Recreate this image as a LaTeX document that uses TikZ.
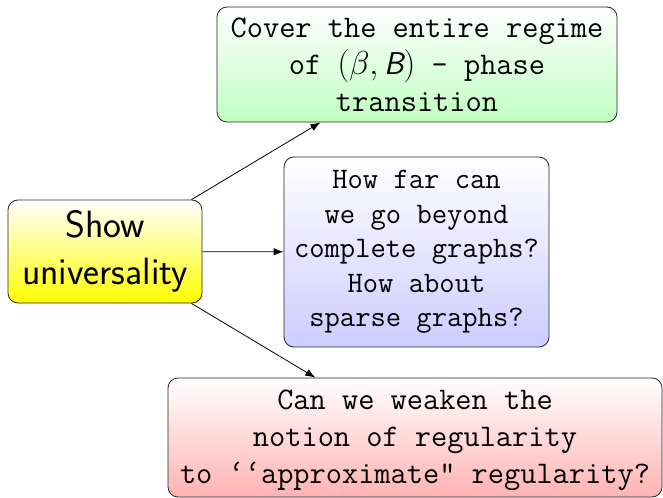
\documentclass[tikz,border=0pt]{standalone}
\usetikzlibrary{arrows.meta,shadings}
\begin{document}
\begin{tikzpicture}[x=0.75pt,y=-0.75pt,
  box/.style={draw=black!85, rounded corners=7.5pt, line width=0.6pt,
    align=center, inner sep=0pt, top color=white},
  ttbox/.style={box, font=\fontsize{23.6}{27.8}\selectfont\ttfamily},
  link/.style={-{Latex[length=7.5pt,width=5.5pt]}, line width=0.6pt}]
\useasboundingbox (0,0) rectangle (663,498);

% central statement
\node[box, bottom color=yellow, minimum width=145.5pt, minimum height=77.25pt,
  font=\fontsize{28.5}{35.5}\selectfont\sffamily] (show) at (105,251.5)
  {Show\\universality};

% three directions
\node[ttbox, bottom color=green!25, minimum width=300pt, minimum height=86.25pt]
  (regime) at (417,64.5)
  {Cover the entire regime\\of $(\beta,\mbox{\sffamily\itshape B})$ - phase\\transition};

\node[box, bottom color=blue!20, minimum width=198.75pt, minimum height=142.5pt,
  font=\fontsize{22.3}{25.8}\selectfont\ttfamily] (graphs) at (416.5,252)
  {How far can\\we go beyond\\complete graphs?\\How about\\sparse graphs?};

\node[ttbox, bottom color=red!30, minimum width=370.5pt, minimum height=89.25pt]
  (regular) at (415,437.5)
  {\rule{0pt}{18.5pt}Can we weaken the\\notion of regularity\\to ‘‘approximate" regularity?};

\draw[link] (show) -- (regime);
\draw[link] (show) -- (graphs);
\draw[link] (show) -- (regular);
\end{tikzpicture}
\end{document}
